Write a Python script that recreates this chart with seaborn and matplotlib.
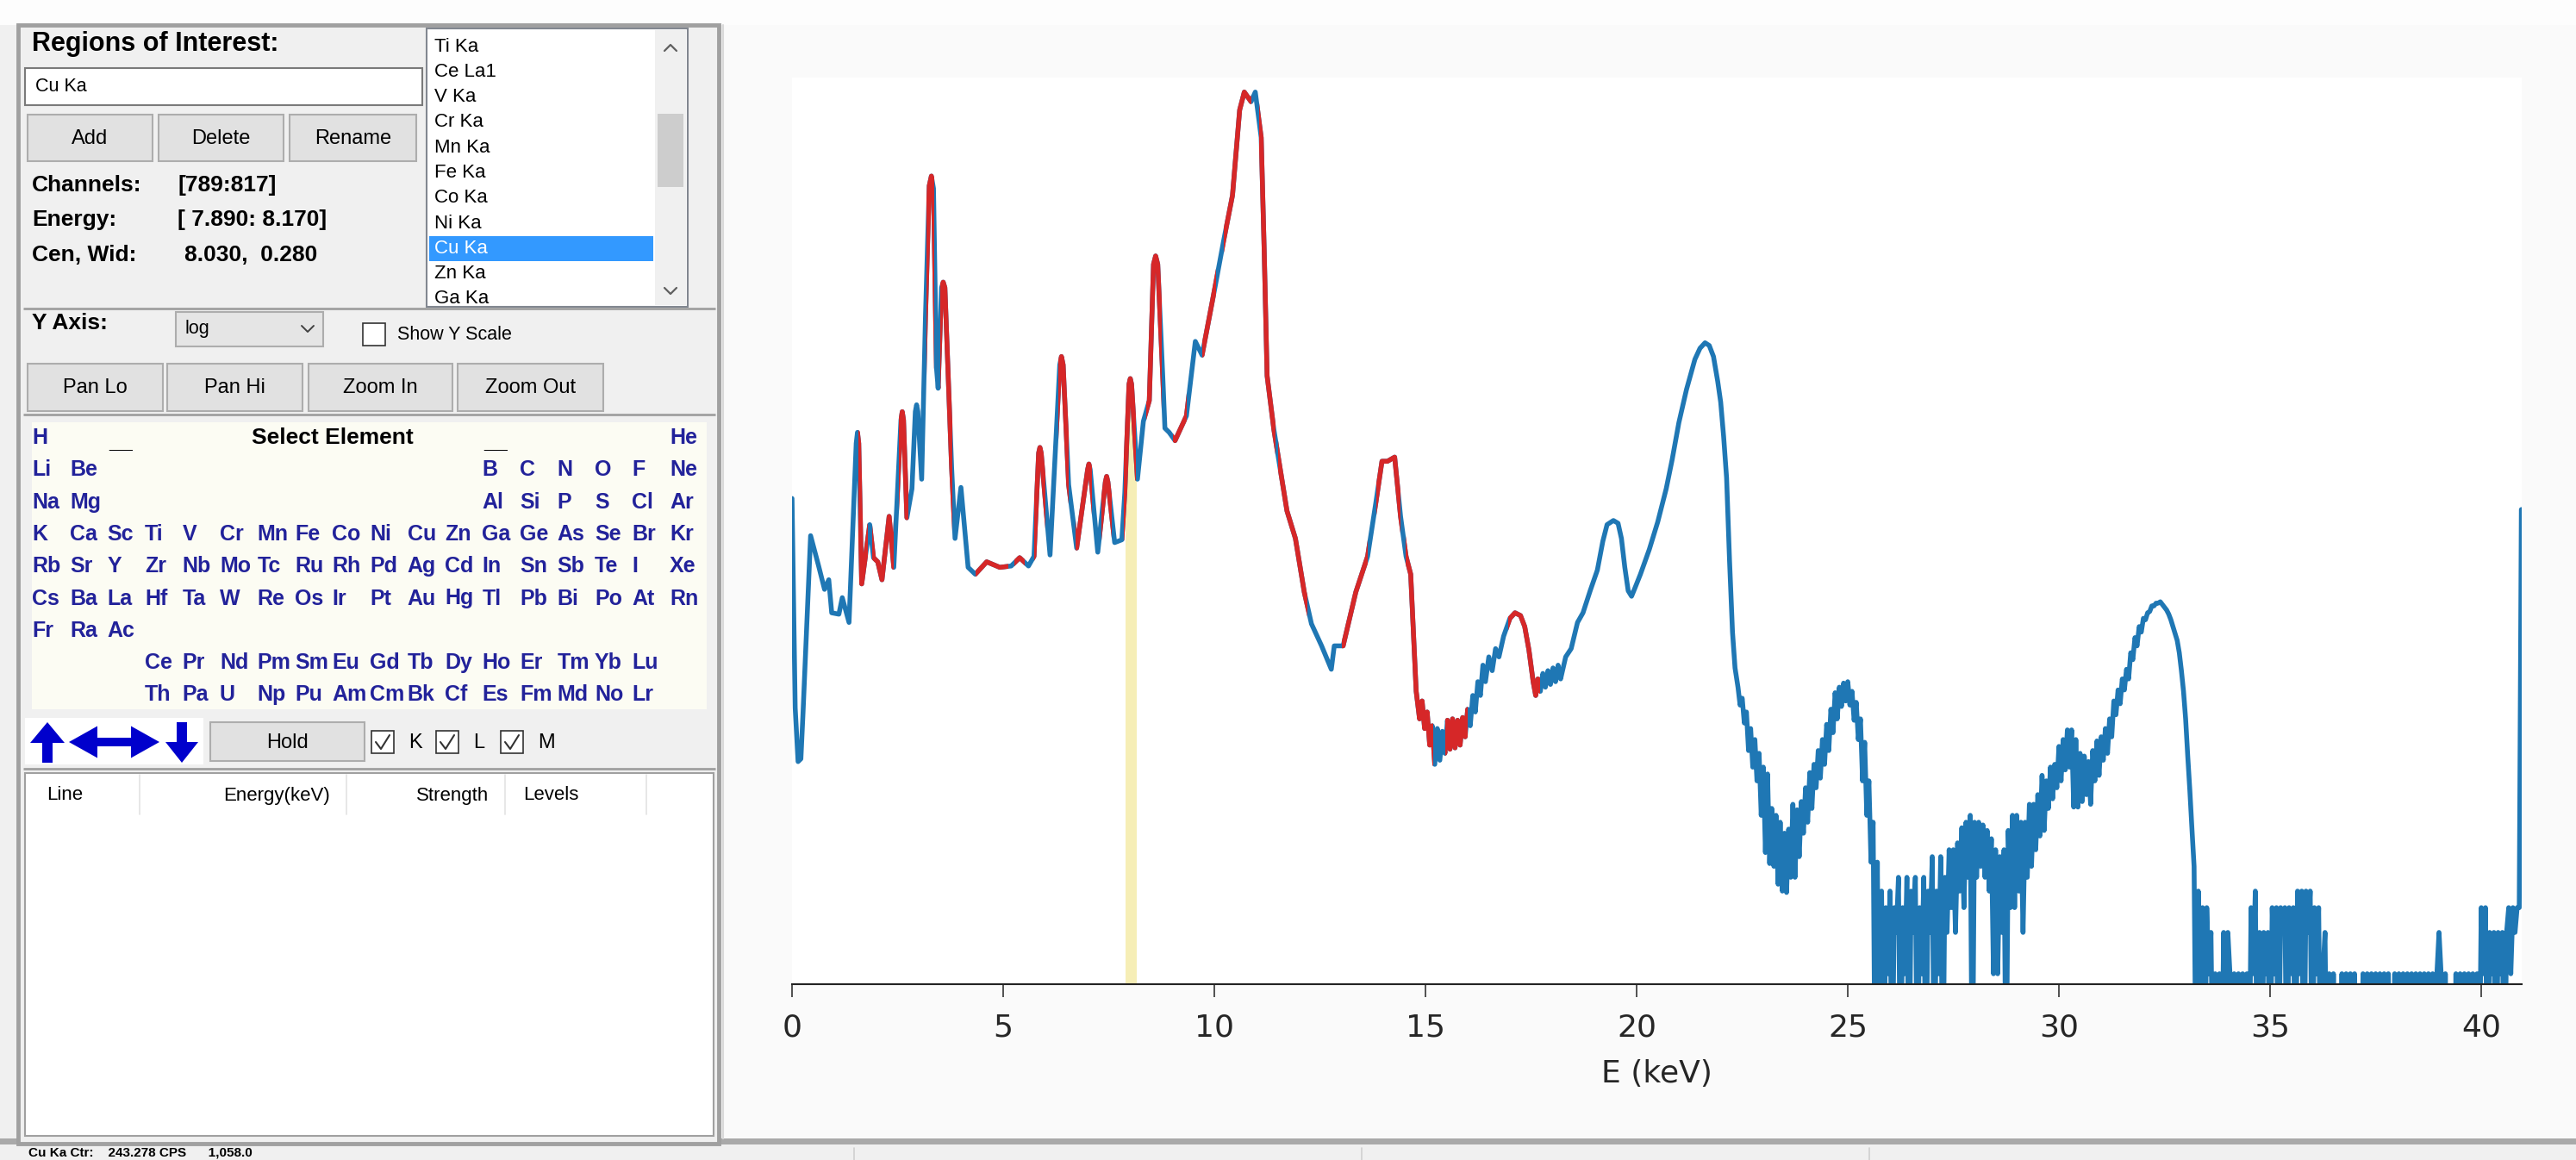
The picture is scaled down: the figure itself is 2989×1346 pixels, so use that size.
import numpy as np
import pandas as pd
import matplotlib
matplotlib.use("Agg")
import matplotlib.pyplot as plt
from matplotlib.patches import Rectangle, PathPatch
from matplotlib.path import Path
from matplotlib.ticker import NullLocator
from matplotlib import transforms
import seaborn as sns

# ---------------- spectrum (keV, log10 counts) ----------------
peak_e = [0.00, 0.075, 0.143, 0.21, 0.26, 0.44, 0.63, 0.77, 0.87, 0.94, 1.11, 1.19, 1.35, 1.52,
          1.55, 1.58, 1.65, 1.84, 1.93, 2.03, 2.13, 2.30, 2.41, 2.58, 2.61, 2.64, 2.72, 2.84,
          2.92, 2.95, 2.98, 3.07, 3.16, 3.25, 3.30, 3.35, 3.42, 3.46, 3.54, 3.58, 3.62, 3.78,
          3.86, 4.00, 4.17, 4.34, 4.61, 4.92, 5.19, 5.39, 5.60, 5.73, 5.84, 5.87, 5.90, 6.11,
          6.34, 6.38, 6.42, 6.55, 6.74, 7.00, 7.03, 7.06, 7.24, 7.42, 7.45, 7.48, 7.64, 7.81,
          7.88, 7.98, 8.01, 8.04, 8.18, 8.32, 8.46, 8.56, 8.61, 8.66, 8.78, 8.83, 8.93, 9.07,
          9.34, 9.55, 9.71, 10.02, 10.22, 10.43, 10.60, 10.71, 10.87, 10.97, 11.11, 11.18,
          11.25, 11.41, 11.72, 11.92, 12.13, 12.30, 12.54, 12.77, 12.84, 13.05, 13.35, 13.63,
          13.83, 13.97, 14.10, 14.27, 14.41, 14.54, 14.65, 14.78]
peak_log = [3.45, 1.93, 1.54, 1.56, 1.89, 3.18, 2.96, 2.79, 2.86, 2.62, 2.61, 2.73, 2.55, 3.85,
            3.93, 3.85, 2.83, 3.26, 3.02, 2.99, 2.86, 3.32, 2.95, 4.02, 4.08, 4.02, 3.31, 3.52,
            4.08, 4.13, 4.08, 3.59, 4.77, 5.72, 5.79, 5.70, 4.40, 4.25, 4.98, 5.02, 4.98, 3.67,
            3.16, 3.53, 2.95, 2.90, 2.99, 2.95, 2.96, 3.02, 2.96, 3.03, 3.78, 3.82, 3.78, 3.04,
            4.42, 4.48, 4.42, 3.55, 3.09, 3.66, 3.70, 3.66, 3.06, 3.57, 3.61, 3.57, 3.13, 3.15,
            3.49, 4.28, 4.32, 4.28, 3.59, 4.01, 4.16, 5.15, 5.21, 5.15, 4.33, 3.96, 3.93, 3.87,
            4.05, 4.59, 4.49, 4.99, 5.32, 5.65, 6.27, 6.40, 6.33, 6.40, 6.07, 5.26,
            4.34, 3.95, 3.36, 3.16, 2.77, 2.54, 2.38, 2.21, 2.38, 2.38, 2.77, 3.03,
            3.43, 3.72, 3.72, 3.75, 3.32, 3.03, 2.90, 2.05]

mid_e = [14.86, 14.92, 14.98, 15.04, 15.10, 15.16, 15.22, 15.28, 15.34, 15.40, 15.46, 15.52,
         15.58, 15.64, 15.70, 15.76, 15.82, 15.88, 15.94, 16.00, 16.06, 16.12, 16.18, 16.24,
         16.30, 16.36, 16.42, 16.50, 16.58, 16.66, 16.74, 16.85, 17.00, 17.12, 17.25, 17.35,
         17.45, 17.55, 17.61, 17.66, 17.72, 17.78, 17.84, 17.90, 17.96, 18.02, 18.08, 18.14,
         18.20, 18.26, 18.32, 18.45, 18.60, 18.73, 18.90, 19.07, 19.20, 19.30, 19.45, 19.56,
         19.64, 19.72, 19.80, 19.88, 19.96, 20.09, 20.30, 20.50, 20.70, 20.84, 21.00, 21.18,
         21.38, 21.50, 21.62, 21.72, 21.82, 21.92, 21.99, 22.06, 22.13, 22.20, 22.27, 22.33]
mid_log = [1.85, 1.98, 1.78, 1.90, 1.66, 1.80, 1.52, 1.78, 1.55, 1.76, 1.60, 1.84,
           1.63, 1.85, 1.64, 1.84, 1.66, 1.86, 1.72, 1.92, 1.80, 2.02, 1.90, 2.12,
           2.02, 2.24, 2.12, 2.30, 2.20, 2.36, 2.30, 2.45, 2.58, 2.62, 2.60, 2.52,
           2.35, 2.12, 2.02, 2.14, 2.05, 2.18, 2.08, 2.20, 2.10, 2.22, 2.12, 2.24,
           2.14, 2.22, 2.30, 2.36, 2.55, 2.62, 2.78, 2.93, 3.14, 3.26, 3.29, 3.27,
           3.16, 2.95, 2.78, 2.74, 2.80, 2.90, 3.08, 3.28, 3.52, 3.73, 4.00, 4.24,
           4.46, 4.54, 4.58, 4.56, 4.48, 4.30, 4.15, 3.90, 3.60, 3.00, 2.48, 2.22]

# noisy tail, one value per 0.05 keV; -1 marks empty channels (drawn below the floor)
TAIL_STEP = 0.05
tail_a_start = 22.40
tail_a = [2.08, 1.95, 2.00, 1.82, 1.90, 1.62, 1.78, 1.50, 1.70, 1.40, 1.60, 1.15, 1.50, 0.88,
          1.45, 0.80, 1.20, 0.78, 1.15, 0.65, 1.10, 0.60, 1.02, 0.59, 1.05, 0.70, 1.23, 0.70,
          1.19, 0.85, 1.25, 1.02, 1.35, 1.10, 1.46, 1.20, 1.52, 1.35, 1.62, 1.42, 1.70, 1.52,
          1.81, 1.62, 1.92, 1.75, 2.04, 1.85, 2.08, 1.94, 2.11, 1.98, 2.12, 1.95, 2.05, 1.84,
          1.97, 1.70, 1.85, 1.40, 1.68, 1.15, 1.40, 0.81, 1.10]
tail_b_start = 25.65
tail_b = [-1, 0.81, -1, 0.60, -1, 0.48, 0.0, 0.60, -1, 0.48, 0.30, 0.70, -1, 0.48, 0.0, 0.70,
          -1, 0.60, 0.30, 0.70, -1, 0.48, 0.0, 0.70, -1, 0.60, 0.30, 0.85, -1, 0.60, 0.0, 0.85,
          -1, 0.70, 0.30, 0.90, 0.48, 0.90, 0.30, 0.95, 0.60, 1.06, 0.48, 1.10, 0.70, 1.15,
          -1, 1.10, 0.70, 1.10, 0.78, 1.08, 0.70, 1.04, 0.60, 0.98, 0.0, 0.90, 0.0, 0.85,
          0.30, 0.90, -1, 1.04, 0.48, 1.15, 0.48, 1.15, 0.60, 1.10, 0.30, 1.10, 0.70, 1.23,
          0.78, 1.23, 0.90, 1.30]
tail_c_start = 29.55
tail_c = [1.00, 1.44, 1.04, 1.40, 1.20, 1.50, 1.27, 1.52, 1.35, 1.65, 1.40, 1.70, 1.48, 1.77,
          1.50, 1.77, 1.21, 1.70, 1.21, 1.60, 1.25, 1.58, 1.30, 1.54, 1.23, 1.62, 1.40, 1.69,
          1.44, 1.72, 1.55, 1.78, 1.60, 1.85, 1.72, 1.98, 1.88, 2.06, 1.96, 2.14, 2.06, 2.21,
          2.14, 2.33, 2.28, 2.44, 2.38, 2.52, 2.48, 2.58, 2.57, 2.62, 2.63, 2.67, 2.67, 2.69,
          2.69, 2.70, 2.68, 2.66, 2.64, 2.61, 2.57, 2.52, 2.47, 2.42, 2.33, 2.20, 2.05, 1.85,
          1.58, 1.33, 1.05, 0.78]
tail_d_start = 33.25
tail_d = [-1, 0.60, -1, 0.48, -1, 0.48, 0.0, 0.30, -1, 0.0, -1, 0.0, -1, 0.30, -1, 0.30, 0.0,
          -1, 0.0, -1, 0.0, -1, 0.0, -1, 0.0, -1, 0.48, 0.0, 0.60, -1, 0.30, -1, 0.30, 0.0, 0.30,
          -1, 0.48, 0.0, 0.48, -1, 0.48, 0.30, 0.48, -1, 0.48, 0.0, 0.48, -1, 0.60, 0.0, 0.60,
          -1, 0.60, 0.30, 0.60, -1, 0.48, 0.0, 0.48, -1, 0.0, 0.30, -1, 0.0, -1, 0.0, -1, -1, -1,
          0.0, -1, 0.0, -1, 0.0, -1, 0.0, -1, -1, -1, 0.0, -1, 0.0, -1, 0.0, -1, 0.0, -1, 0.0,
          -1, 0.0, -1, 0.0, -1, -1, 0.0, -1, 0.0, -1, 0.0, -1, 0.0, -1, 0.0, -1, 0.0, -1, 0.0,
          -1, 0.0, -1, 0.0, -1, 0.0, -1, 0.0, 0.30, 0.0, -1, 0.0, -1, -1, -1, -1, 0.0, -1, 0.0,
          -1, 0.0, -1, 0.0, -1, 0.0, -1, 0.0, -1, 0.48, 0.0, 0.48, -1, 0.30, 0.0, 0.30, -1,
          0.30, 0.0, 0.30, -1, 0.30, 0.48, 0.0, 0.48, 0.30, 0.48, 0.48, 3.37]

# regions of interest (drawn red) and the selected one (Cu Ka, filled yellow)
roi_lo = [1.57, 1.89, 2.54, 3.18, 3.52, 4.34, 5.26, 5.73, 6.31, 6.72, 7.33, 7.86, 8.39, 9.02,
          9.71, 10.22, 11.07, 11.52, 13.02, 13.83, 14.54, 15.46, 16.96]
roi_hi = [1.80, 2.40, 2.76, 3.37, 3.80, 5.12, 5.50, 6.01, 6.56, 7.10, 7.57, 8.15, 8.76, 9.35,
          10.05, 10.87, 11.45, 12.20, 13.63, 14.41, 15.19, 16.00, 17.71]
sel_lo, sel_hi = 7.89, 8.17

# ---------------- left panel contents ----------------
roi_names = ["Ti Ka", "Ce La1", "V Ka", "Cr Ka", "Mn Ka", "Fe Ka", "Co Ka", "Ni Ka",
             "Cu Ka", "Zn Ka", "Ga Ka"]
selected_roi = "Cu Ka"
ptable_rows = [
    [(0, "H"), (17, "He")],
    [(0, "Li"), (1, "Be"), (12, "B"), (13, "C"), (14, "N"), (15, "O"), (16, "F"), (17, "Ne")],
    [(0, "Na"), (1, "Mg"), (12, "Al"), (13, "Si"), (14, "P"), (15, "S"), (16, "Cl"), (17, "Ar")],
    list(enumerate("K Ca Sc Ti V Cr Mn Fe Co Ni Cu Zn Ga Ge As Se Br Kr".split())),
    list(enumerate("Rb Sr Y Zr Nb Mo Tc Ru Rh Pd Ag Cd In Sn Sb Te I Xe".split())),
    list(enumerate("Cs Ba La Hf Ta W Re Os Ir Pt Au Hg Tl Pb Bi Po At Rn".split())),
    list(enumerate("Fr Ra Ac".split())),
    [(i + 3, s) for i, s in enumerate("Ce Pr Nd Pm Sm Eu Gd Tb Dy Ho Er Tm Yb Lu".split())],
    [(i + 3, s) for i, s in enumerate("Th Pa U Np Pu Am Cm Bk Cf Es Fm Md No Lr".split())],
]

BLUE, RED = "#1f77b4", "#d62728"
LW = 4.0
W, H = 2989, 1346

sns.set_style("white")
plt.rcParams["font.family"] = ["DejaVu Sans"]
plt.rcParams["path.simplify"] = False
UI = ["Liberation Sans", "DejaVu Sans"]

fig = plt.figure(figsize=(W / 100, H / 100), dpi=100, facecolor="#f0f0f0")

# pixel-space layer for the window chrome
ui = fig.add_axes([0, 0, 1, 1])
ui.set_xlim(0, W)
ui.set_ylim(H, 0)
ui.axis("off")


def box(x0, y0, x1, y1, fc, ec="none", lw=0.0):
    r = Rectangle((x0, y0), x1 - x0, y1 - y0, facecolor=fc, edgecolor=ec, linewidth=lw)
    ui.add_patch(r)
    return r


def label(x, y, s, size=16, weight="normal", color="black", ha="left", va="center"):
    return ui.text(x, y, s, fontsize=size, fontweight=weight, color=color, ha=ha, va=va,
                   family=UI)


def button(x0, y0, x1, y1, s, size=17):
    box(x0, y0, x1, y1, "#e1e1e1", "#adadad", 1.5)
    label((x0 + x1) / 2, (y0 + y1) / 2 + 1, s, size, ha="center")


def hline(y, x0=27, x1=830, c="#a0a0a0", lw=2.0):
    ui.plot([x0, x1], [y, y], color=c, lw=lw, solid_capstyle="butt")


def checkbox(x0, y0, checked=True):
    box(x0, y0, x0 + 26, y0 + 26, "white", "#333333", 1.2)
    if checked:
        ui.plot([x0 + 5, x0 + 11, x0 + 21], [y0 + 13, y0 + 21, y0 + 5], color="#333333", lw=1.5)


# window background pieces
box(0, 0, W, 29, "#fdfdfd")
box(839, 29, W, 1321, "#fafafa")
ui.plot([839, 839], [29, 1321], color="#d9d9d9", lw=1.5)
box(0, 1321, W, 1328, "#a9a9a9")
for sx in (991, 1580, 2169):
    ui.plot([sx, sx], [1332, H], color="#d0d0d0", lw=1.2)
label(33, 1337, "Cu Ka Ctr:    243.278 CPS      1,058.0", 11, "bold")

# left panel frame
box(21, 29, 834, 1327, "#f0f0f0", "#a0a0a0", 3.5)

# regions of interest block
label(37, 51, "Regions of Interest:", 22, "bold")
box(29, 79, 490, 122, "white", "#7a7a7a", 1.5)
label(41, 101, "Cu Ka", 15.5)
button(32, 133, 177, 187, "Add")
button(184, 133, 329, 187, "Delete")
button(336, 133, 483, 187, "Rename")
for yy, name, val, vx in [(215, "Channels:", "[789:817]", 206),
                          (255, "Energy:", "[ 7.890: 8.170]", 206),
                          (296, "Cen, Wid:", "8.030,  0.280", 214)]:
    label(37, yy, name, 19, "bold")
    label(vx, yy, val, 19, "bold")

# roi list box with scrollbar
box(495, 33, 798, 356, "white", "#828790", 1.5)
clip = Rectangle((496, 34), 300, 321, transform=ui.transData)
for i, name in enumerate(roi_names):
    yy = 54 + 29.3 * i
    if name == selected_roi:
        box(498, yy - 14.5, 758, yy + 14.5, "#3399ff")
    t = label(504, yy, name, 16, color="white" if name == selected_roi else "black")
    t.set_clip_path(clip)
box(760, 35, 796, 354, "#f0f0f0")
box(763, 132, 793, 217, "#cdcdcd")
ui.plot([771, 778, 785], [59, 52, 59], color="#606060", lw=1.6)
ui.plot([771, 778, 785], [334, 341, 334], color="#606060", lw=1.6)
hline(358)

# y axis controls
label(37, 375, "Y Axis:", 19, "bold")
box(204, 362, 375, 402, "#e5e5e5", "#adadad", 1.5)
label(214, 382, "log", 15.5)
ui.plot([350, 357, 364], [378, 385, 378], color="#404040", lw=1.4)
checkbox(421, 375, checked=False)
label(461, 389, "Show Y Scale", 15.5)
for x0, x1, s in [(32, 189, "Pan Lo"), (194, 351, "Pan Hi"), (358, 525, "Zoom In"),
                  (531, 700, "Zoom Out")]:
    button(x0, 422, x1, 477, s)
hline(481)

# periodic table
box(37, 490, 820, 823, "#fcfcf3")
for r, row in enumerate(ptable_rows):
    for c, sym in row:
        label(37.5 + 43.5 * c, 508 + 37.3 * r, sym, 18, "bold", color="#22229a")
label(386, 508, "Select Element", 19, "bold", ha="center")
for c in (2, 12):
    label(37.5 + 43.5 * c + 2, 512, "__", 18, "bold")

# arrows, hold, K/L/M
box(29, 833, 236, 887, "white")
AR = "#0000cc"
ui.arrow(55, 885, 0, -47, width=12, head_width=40, head_length=24, length_includes_head=True,
         color=AR, lw=0)
ui.arrow(132, 861, -52, 0, width=10, head_width=37, head_length=33, length_includes_head=True,
         color=AR, lw=0)
ui.arrow(132, 861, 53, 0, width=10, head_width=37, head_length=33, length_includes_head=True,
         color=AR, lw=0)
ui.arrow(211, 838, 0, 47, width=12, head_width=38, head_length=24, length_includes_head=True,
         color=AR, lw=0)
button(244, 838, 423, 883, "Hold")
for bx, s in [(431, "K"), (506, "L"), (581, "M")]:
    checkbox(bx, 848)
    label(bx + 43, 862, s, 17)
hline(892)

# line table
box(29, 897, 828, 1318, "white", "#a0a0a0", 1.5)
for sx in (162, 402, 586, 750):
    ui.plot([sx, sx], [899, 945], color="#e3e3e3", lw=1.2)
label(54, 923, "Line", 16)
label(383, 923, "Energy(keV)", 16, ha="right")
label(567, 923, "Strength", 16, ha="right")
label(607, 923, "Levels", 16)

# ---------------- spectrum axes ----------------
ax_left, ax_right, ax_top, ax_bottom = 919, 2925.6, 90, 1142
ax = fig.add_axes([ax_left / W, 1 - ax_bottom / H, (ax_right - ax_left) / W,
                   (ax_bottom - ax_top) / H])
ax.set_facecolor("white")

energy = np.concatenate([
    peak_e, mid_e,
    tail_a_start + TAIL_STEP * np.arange(len(tail_a)),
    tail_b_start + TAIL_STEP * np.arange(len(tail_b)),
    tail_c_start + TAIL_STEP * np.arange(len(tail_c)),
    tail_d_start + TAIL_STEP * np.arange(len(tail_d)),
])
logc = np.concatenate([peak_log, mid_log, tail_a, tail_b, tail_c, tail_d])
spec = pd.DataFrame({"energy": energy, "counts": 10.0 ** logc})

blend = transforms.blended_transform_factory(ax.transData, ax.transAxes)

# selected ROI: filled under the curve
fill = ax.fill_between(spec["energy"], 1e-3, spec["counts"], color="#f6eeb6", lw=0, zorder=1)
fill.set_clip_path(Rectangle((sel_lo, 0), sel_hi - sel_lo, 1, transform=blend))

sns.lineplot(data=spec, x="energy", y="counts", sort=False, estimator=None, color=BLUE,
             lw=LW, ax=ax, zorder=2)

sns.lineplot(data=spec, x="energy", y="counts", sort=False, estimator=None, color=RED,
             lw=LW, ax=ax, zorder=3)
verts, codes = [], []
for a, b in zip(roi_lo, roi_hi):
    verts += [(a, 0), (b, 0), (b, 1), (a, 1), (a, 0)]
    codes += [Path.MOVETO, Path.LINETO, Path.LINETO, Path.LINETO, Path.CLOSEPOLY]
ax.lines[-1].set_clip_path(PathPatch(Path(verts, codes), transform=blend))

ax.set_yscale("log")
ax.set_xlim(0, 40.95)
ax.set_ylim(0.84, 3.2e6)
ax.yaxis.set_major_locator(NullLocator())
ax.yaxis.set_minor_locator(NullLocator())
ax.set_ylabel("")
ax.set_xticks(range(0, 41, 5))
ax.tick_params(axis="x", direction="out", length=10.8, width=1.1, color="#222222",
               pad=13.5, labelsize=26, bottom=True)
ax.set_xlabel("E (keV)", fontsize=26, labelpad=14)
for side in ("left", "top", "right"):
    ax.spines[side].set_visible(False)
ax.spines["bottom"].set_linewidth(1.5)
ax.spines["bottom"].set_color("#222222")

fig.savefig("out.png", dpi=100, facecolor=fig.get_facecolor())
